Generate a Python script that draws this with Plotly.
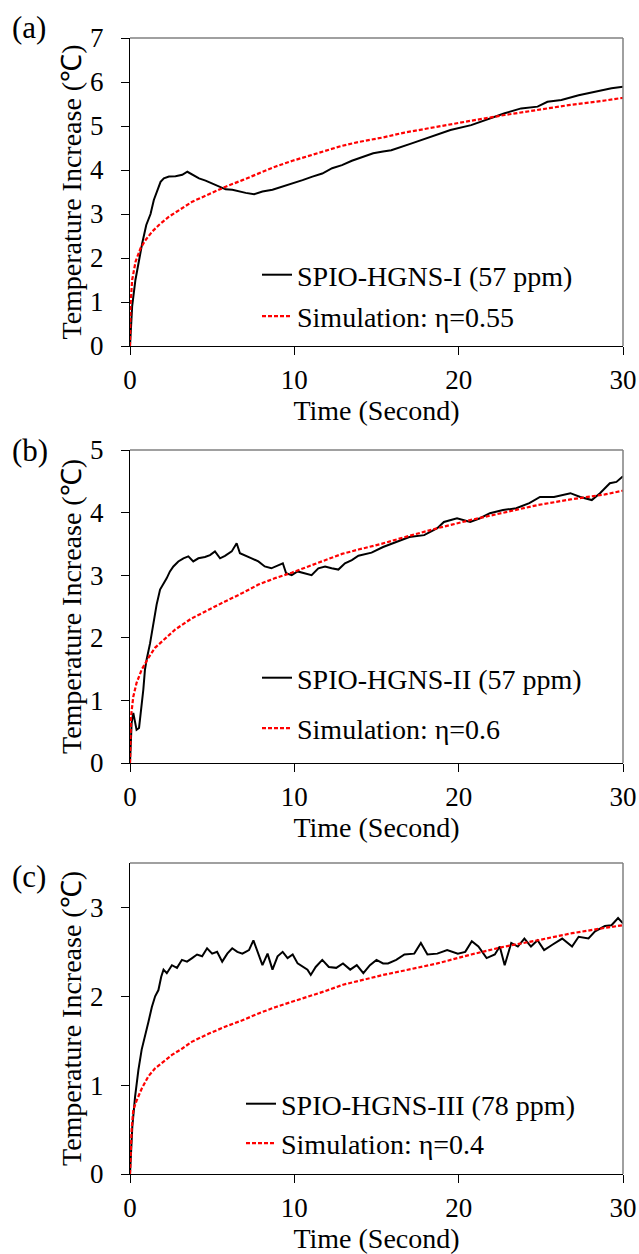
import plotly.graph_objects as go

# ---------------- data ----------------
# Panel (a)
tA_exp = [0, 0.13, 0.33, 0.54, 0.74, 0.99, 1.25, 1.45, 1.66, 1.86, 2.06, 2.37, 2.77, 3.18, 3.49, 3.79,
          4.2, 4.6, 5.0, 5.42, 5.82, 6.23, 6.64, 7.04, 7.55, 8.06, 8.67, 9.28, 9.89, 10.5, 11.1, 11.7,
          12.3, 12.9, 13.5, 14.2, 14.8, 15.4, 15.9, 17.1, 18.3, 19.5, 20.76, 21.37, 21.98, 22.8, 23.8,
          24.8, 25.4, 26.25, 27.3, 28.3, 29.3, 30.0]
vA_exp = [0, 0.9, 1.5, 1.95, 2.33, 2.75, 3.0, 3.32, 3.55, 3.73, 3.81, 3.85, 3.86, 3.89, 3.96, 3.89,
          3.81, 3.76, 3.7, 3.62, 3.56, 3.55, 3.51, 3.48, 3.45, 3.51, 3.55, 3.62, 3.70, 3.77, 3.85, 3.92,
          4.04, 4.11, 4.21, 4.30, 4.38, 4.42, 4.45, 4.6, 4.76, 4.91, 5.02, 5.10, 5.17, 5.29, 5.40,
          5.44, 5.55, 5.59, 5.70, 5.78, 5.86, 5.89]
tA_sim = [0, 0.03, 0.13, 0.34, 0.64, 0.95, 1.35, 1.76, 2.37, 2.98, 3.79, 4.8, 5.82, 6.84, 7.86, 8.87,
          9.89, 10.9, 11.9, 12.9, 13.95, 15.4, 16.7, 18.73, 20.76, 22.8, 24.8, 26.8, 28.9, 30]
vA_sim = [0, 0.9, 1.5, 1.92, 2.22, 2.41, 2.6, 2.75, 2.94, 3.09, 3.28, 3.45, 3.62, 3.77, 3.92, 4.08,
          4.21, 4.33, 4.44, 4.55, 4.64, 4.74, 4.85, 4.99, 5.12, 5.25, 5.37, 5.48, 5.58, 5.64]

# Panel (b)
tB_exp = [0, 0.1, 0.2, 0.3, 0.4, 0.55, 0.67, 0.81, 0.91, 1.01, 1.22, 1.42, 1.62, 1.83, 2.03, 2.23,
          2.43, 2.64, 2.94, 3.25, 3.55, 3.85, 4.16, 4.56, 4.87, 5.17, 5.48, 5.78, 6.19, 6.49, 6.69,
          7.0, 7.4, 7.81, 8.2, 8.6, 9.0, 9.3, 9.5, 9.84, 10.2, 10.65, 11.05, 11.46, 11.87, 12.27,
          12.68, 13.08, 13.5, 13.9, 14.3, 14.7, 15.4, 16.2, 17.0, 17.9, 18.7, 19.1, 19.9, 20.7, 21.3,
          21.9, 22.7, 23.5, 24.3, 24.95, 25.8, 26.8, 27.4, 28.1, 28.6, 29.2, 29.6, 30.0]
vB_exp = [0, 0.64, 0.8, 0.64, 0.53, 0.56, 0.8, 1.17, 1.49, 1.65, 1.91, 2.23, 2.53, 2.77, 2.85, 2.95,
          3.06, 3.14, 3.22, 3.27, 3.30, 3.22, 3.27, 3.29, 3.32, 3.38, 3.27, 3.31, 3.38, 3.51, 3.35,
          3.31, 3.27, 3.22, 3.14, 3.11, 3.16, 3.19, 3.03, 3.0, 3.06, 3.03, 3.0, 3.11, 3.14, 3.11,
          3.09, 3.19, 3.24, 3.31, 3.34, 3.36, 3.45, 3.53, 3.61, 3.64, 3.75, 3.85, 3.91, 3.85, 3.91,
          3.99, 4.04, 4.07, 4.15, 4.25, 4.25, 4.31, 4.25, 4.20, 4.31, 4.47, 4.49, 4.58]
tB_sim = [0, 0.06, 0.2, 0.4, 0.71, 1.12, 1.52, 2.13, 2.74, 3.75, 4.77, 5.78, 6.8, 7.81, 8.8, 9.84,
          10.85, 11.87, 12.9, 13.9, 15.3, 16.6, 18.7, 20.7, 22.7, 24.8, 26.8, 28.9, 30]
vB_sim = [0, 0.74, 1.06, 1.28, 1.49, 1.68, 1.84, 1.99, 2.13, 2.31, 2.45, 2.58, 2.71, 2.85, 2.95, 3.04,
          3.14, 3.24, 3.34, 3.41, 3.5, 3.6, 3.75, 3.88, 4.0, 4.12, 4.21, 4.29, 4.35]

# Panel (c)
tC_exp = [0, 0.14, 0.31, 0.51, 0.71, 0.92, 1.12, 1.33, 1.53, 1.73, 1.9, 2.04, 2.24, 2.55, 2.86, 3.16,
          3.47, 3.78, 4.08, 4.39, 4.69, 5.0, 5.3, 5.61, 5.92, 6.22, 6.53, 6.84, 7.24, 7.51, 7.76, 8.06,
          8.37, 8.67, 8.98, 9.29, 9.59, 9.9, 10.2, 10.5, 10.8, 11.0, 11.3, 11.7, 12.1, 12.55, 12.96,
          13.4, 13.8, 14.2, 14.6, 15.0, 15.4, 15.7, 16.2, 16.7, 17.3, 17.7, 18.1, 18.7, 19.3, 19.95,
          20.4, 20.8, 21.2, 21.7, 22.2, 22.5, 22.8, 23.2, 23.6, 24.0, 24.4, 24.8, 25.2, 25.7, 26.3,
          26.9, 27.3, 27.9, 28.3, 28.9, 29.3, 29.7, 30.0]
vC_exp = [0, 0.53, 0.87, 1.17, 1.40, 1.55, 1.71, 1.88, 2.0, 2.07, 2.22, 2.30, 2.26, 2.35, 2.32, 2.41,
          2.39, 2.43, 2.47, 2.45, 2.54, 2.48, 2.50, 2.39, 2.48, 2.54, 2.50, 2.48, 2.52, 2.63, 2.50, 2.35,
          2.48, 2.30, 2.45, 2.50, 2.43, 2.47, 2.37, 2.33, 2.30, 2.24, 2.33, 2.41, 2.33, 2.32, 2.37,
          2.30, 2.35, 2.26, 2.35, 2.41, 2.37, 2.37, 2.41, 2.47, 2.48, 2.60, 2.47, 2.48, 2.52, 2.48,
          2.50, 2.62, 2.56, 2.43, 2.47, 2.56, 2.35, 2.60, 2.56, 2.65, 2.56, 2.63, 2.52, 2.58, 2.65,
          2.56, 2.67, 2.65, 2.73, 2.79, 2.80, 2.88, 2.82]
tC_sim = [0, 0.1, 0.2, 0.41, 0.71, 1.12, 1.53, 1.94, 2.55, 3.16, 3.78, 4.8, 5.82, 6.84, 7.86, 8.88,
          9.9, 10.9, 11.9, 12.96, 14.0, 15.4, 16.7, 18.7, 20.76, 22.8, 24.8, 26.9, 28.9, 30]
vC_sim = [0, 0.5, 0.72, 0.83, 0.96, 1.10, 1.19, 1.25, 1.34, 1.41, 1.49, 1.58, 1.66, 1.73, 1.81, 1.88,
          1.94, 2.0, 2.06, 2.13, 2.18, 2.24, 2.29, 2.37, 2.47, 2.56, 2.63, 2.71, 2.77, 2.80]

names_exp = ["SPIO-HGNS-I (57 ppm)", "SPIO-HGNS-II (57 ppm)", "SPIO-HGNS-III (78 ppm)"]
names_sim = ["Simulation: η=0.55", "Simulation: η=0.6", "Simulation: η=0.4"]
panel_labels = ["(a)", "(b)", "(c)"]
y_ranges = [[0, 7], [0, 5], [0, 3.5]]
y_ticks = [[0, 1, 2, 3, 4, 5, 6, 7], [0, 1, 2, 3, 4, 5], [0, 1, 2, 3]]
x_ticks = [0, 10, 20, 30]
x_title = "Time (Second)"
y_title = "Temperature Increase (℃)"

# ---------------- layout geometry ----------------
W, H = 639, 1254
FONT = "Liberation Serif, Times New Roman, serif"
px_left, px_right = 130, 623
panels_px = [(38, 346), (450, 763), (863, 1174)]  # top, bottom in pixels
legend_pos = [(257, 250, 2), (257, 653, 11), (241, 1079, 0)]  # left, top, group gap
label_pos = [(10, 28), (10, 450), (10, 876)]

exp_data = [(tA_exp, vA_exp), (tB_exp, vB_exp), (tC_exp, vC_exp)]
sim_data = [(tA_sim, vA_sim), (tB_sim, vB_sim), (tC_sim, vC_sim)]

fig = go.Figure()
layout = dict(
    width=W, height=H, margin=dict(l=0, r=0, t=0, b=0, autoexpand=False),
    paper_bgcolor="white", plot_bgcolor="white",
    font=dict(family=FONT, size=26, color="black"),
    shapes=[], annotations=[],
)

for i in range(3):
    sfx = "" if i == 0 else str(i + 1)
    xa, ya = "x" + sfx, "y" + sfx
    lg = "legend" + sfx
    t_e, v_e = exp_data[i]
    t_s, v_s = sim_data[i]
    fig.add_trace(go.Scatter(x=t_e, y=v_e, mode="lines", name=names_exp[i],
                             line=dict(color="black", width=2),
                             xaxis=xa, yaxis=ya, legend=lg, legendgroup="e" + str(i)))
    fig.add_trace(go.Scatter(x=t_s, y=v_s, mode="lines", name=names_sim[i],
                             line=dict(color="#ff0000", width=2.2, dash="4px,2px"),
                             xaxis=xa, yaxis=ya, legend=lg, legendgroup="s" + str(i)))
    top, bot = panels_px[i]
    layout["xaxis" + sfx] = dict(
        domain=[px_left / W, px_right / W], anchor=ya, range=[0, 30], automargin=False,
        tickvals=x_ticks, ticks="outside", ticklen=8, tickcolor="black", ticklabelstandoff=2,
        showline=True, linecolor="black", linewidth=1, showgrid=False, zeroline=False,
        tickfont=dict(size=27), title=dict(text=x_title, font=dict(size=28), standoff=0),
    )
    layout["yaxis" + sfx] = dict(
        domain=[1 - bot / H, 1 - top / H], anchor=xa, range=y_ranges[i], automargin=False,
        tickvals=y_ticks[i], ticks="outside", ticklen=8, tickcolor="black", ticklabelstandoff=12,
        showline=True, linecolor="black", linewidth=1, showgrid=False, zeroline=False,
        tickfont=dict(size=27), title=dict(text=y_title, font=dict(size=28), standoff=0),
    )
    lx, ly, gap = legend_pos[i]
    layout[lg] = dict(x=lx / W, y=1 - ly / H, xanchor="left", yanchor="top",
                      bgcolor="rgba(0,0,0,0)", font=dict(size=28, family=FONT),
                      tracegroupgap=gap, itemwidth=30)
    # grey top/right frame
    layout["shapes"].append(dict(type="line", xref=xa + " domain", yref=ya + " domain",
                                 x0=0, x1=1, y0=1, y1=1, line=dict(color="#808080", width=1.5)))
    layout["shapes"].append(dict(type="line", xref=xa + " domain", yref=ya + " domain",
                                 x0=1, x1=1, y0=0, y1=1, line=dict(color="#808080", width=1.5)))
    px_, py_ = label_pos[i]
    layout["annotations"].append(dict(text=panel_labels[i], xref="paper", yref="paper",
                                      x=px_ / W, y=1 - py_ / H, xanchor="left", yanchor="middle",
                                      showarrow=False, font=dict(size=31, family=FONT)))

fig.update_layout(**layout)
# remove the browser's default page margin so the figure fills the window exactly
fig.write_html("out.html", config={"displayModeBar": False},
               post_script="document.body.style.margin='0';document.body.style.overflow='hidden';")
